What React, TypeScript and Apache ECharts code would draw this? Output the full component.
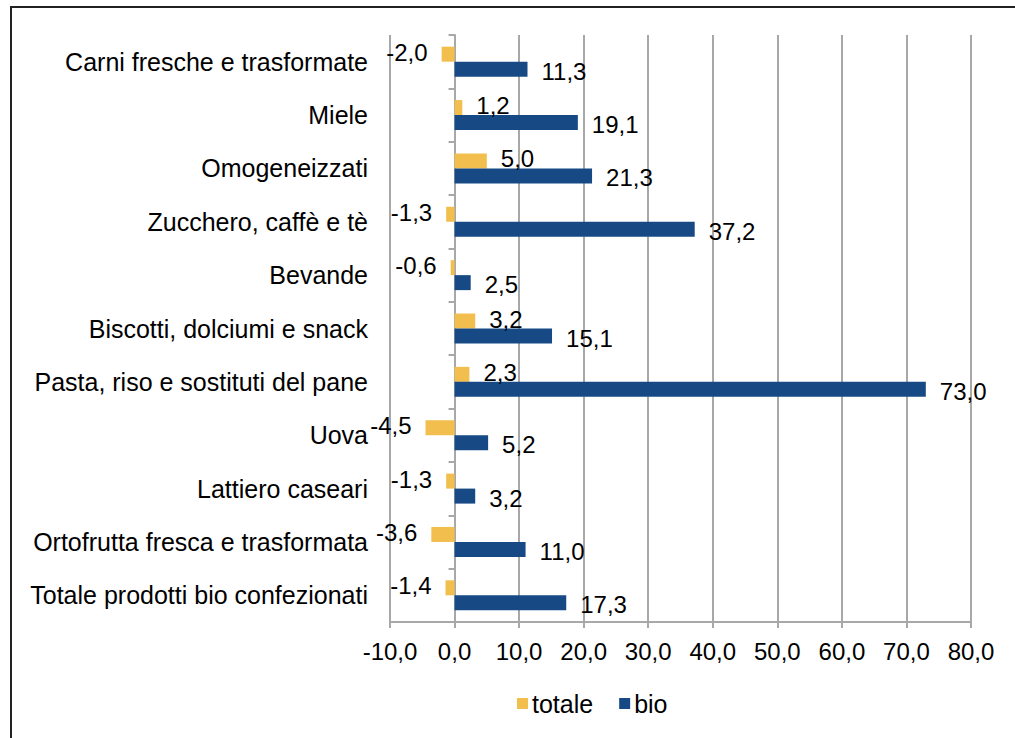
import React, { useEffect, useRef } from "react";
import * as echarts from "echarts";

const categories = [
  "Carni fresche e trasformate",
  "Miele",
  "Omogeneizzati",
  "Zucchero, caffè e tè",
  "Bevande",
  "Biscotti, dolciumi e snack",
  "Pasta, riso e sostituti del pane",
  "Uova",
  "Lattiero caseari",
  "Ortofrutta fresca e trasformata",
  "Totale prodotti bio confezionati",
];
const totale = [-2.0, 1.2, 5.0, -1.3, -0.6, 3.2, 2.3, -4.5, -1.3, -3.6, -1.4];
const bio = [11.3, 19.1, 21.3, 37.2, 2.5, 15.1, 73.0, 5.2, 3.2, 11.0, 17.3];

const FONT = "'Liberation Sans', Arial, Helvetica, sans-serif";
const fmt = (v: number) => v.toFixed(1).replace(".", ",");

export default function App() {
  const ref = useRef<HTMLDivElement>(null);
  useEffect(() => {
    if (!ref.current) return;
    const chart = echarts.init(ref.current, undefined, { renderer: "svg" });
    const mk = (vals: number[], offY: number) =>
      vals.map((v) => ({
        value: v,
        label: { position: v < 0 ? "left" : "right", offset: [0, offY] },
      }));
    const labelStyle = {
      show: true,
      distance: 14,
      fontSize: 24,
      color: "#000",
      fontFamily: FONT,
      formatter: (p: any) => fmt(p.value),
    };
    chart.setOption({
      animation: false,
      textStyle: { fontFamily: FONT },
      graphic: [
        {
          type: "rect",
          shape: { x: 11, y: 7, width: 1200, height: 1000 },
          style: { fill: "none", stroke: "#222", lineWidth: 2 },
          silent: true,
        },
      ],
      legend: {
        top: 686,
        left: 512,
        itemWidth: 11,
        itemHeight: 11,
        itemGap: 26,
        icon: "rect",
        textStyle: { fontSize: 25, color: "#000", fontFamily: FONT, padding: [0, 0, 0, -1] },
        data: ["totale", "bio"],
      },
      grid: { left: 390, right: 44, top: 35, bottom: 116, containLabel: false, outerBoundsMode: "none" },
      xAxis: {
        type: "value",
        min: -10,
        max: 80,
        interval: 10,
        axisLine: { show: true, lineStyle: { color: "#a8a8a8", width: 2 } },
        axisTick: { show: true, length: 6, lineStyle: { color: "#a8a8a8", width: 2 } },
        axisLabel: {
          formatter: (v: number) => fmt(v),
          fontSize: 24,
          color: "#000",
          margin: 17,
          fontFamily: FONT,
        },
        splitLine: { show: true, lineStyle: { color: "#a8a8a8", width: 2 } },
      },
      yAxis: {
        type: "category",
        inverse: true,
        data: categories,
        axisLine: { show: true, onZero: true, lineStyle: { color: "#a8a8a8", width: 2 } },
        axisTick: { show: true, length: 6, lineStyle: { color: "#a8a8a8", width: 2 } },
        axisLabel: { fontSize: 25, color: "#000", margin: 22, fontFamily: FONT },
      },
      series: [
        {
          name: "totale",
          type: "bar",
          data: mk(totale, -2),
          barWidth: 15,
          barGap: "0%",
          itemStyle: { color: "#F2BF4E" },
          label: labelStyle,
        },
        {
          name: "bio",
          type: "bar",
          data: mk(bio, 2),
          barWidth: 15,
          barGap: "0%",
          itemStyle: { color: "#174A85" },
          label: labelStyle,
        },
      ],
    });
    return () => chart.dispose();
  }, []);
  return (
    <div
      ref={ref}
      style={{ position: "absolute", left: 0, top: 0, width: 1015, height: 738 }}
    />
  );
}
